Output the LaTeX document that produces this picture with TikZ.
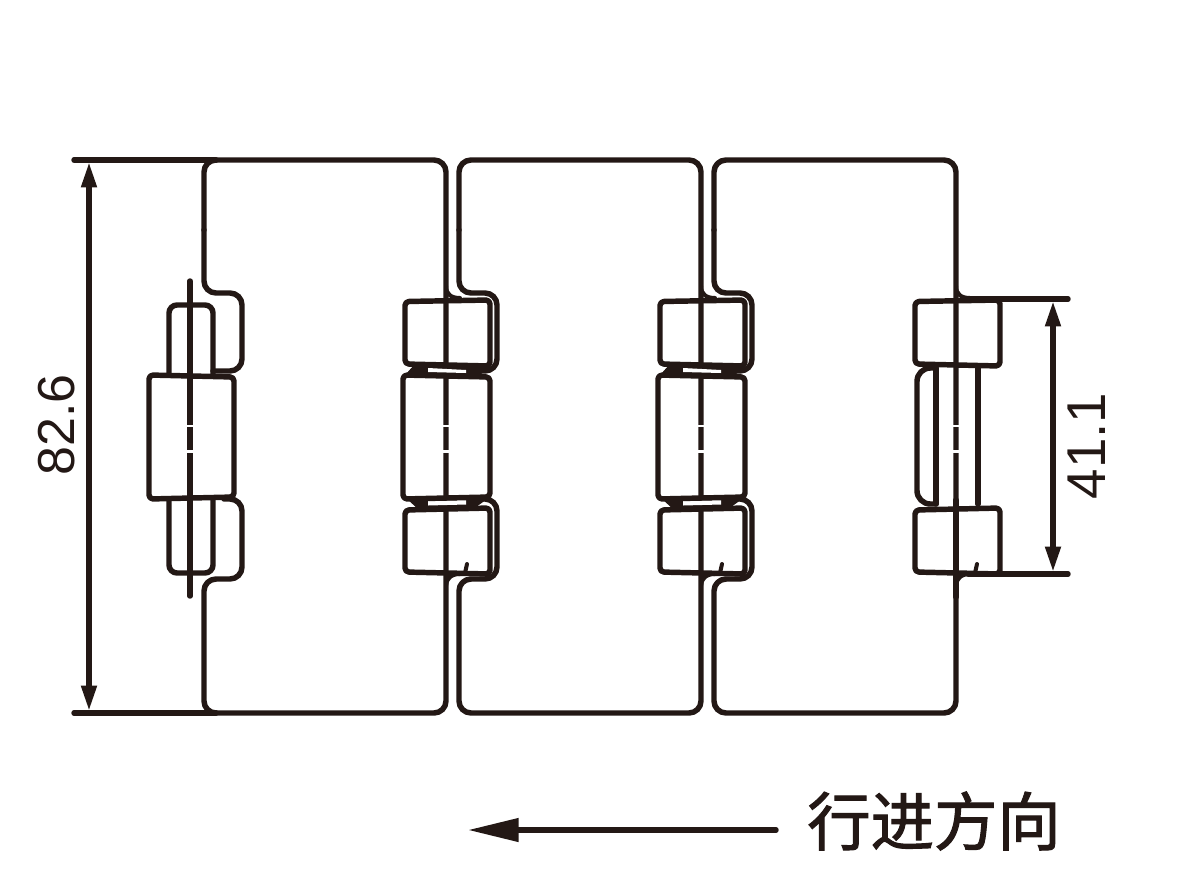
\documentclass[tikz,border=0pt]{standalone}
\usepackage{fontspec}
\setmainfont{Liberation Sans}
\newfontfamily\cjk[FakeBold=1.6]{Noto Sans CJK SC}
\usetikzlibrary{arrows.meta}
\definecolor{ink}{HTML}{231815}
\tikzset{x=0.75pt,y=-0.75pt,
 ln/.style={draw=ink,line width=4.1pt,line join=round,line cap=round},
 rn/.style={ln,rounded corners=9pt},
 rs/.style={ln,rounded corners=3pt},
 tip/.style={-{Triangle[length=19pt,width=11pt,color=ink]}},
 bigtip/.style={-{Triangle[length=38pt,width=17pt,color=ink]}},
 lbl/.style={text=ink,inner sep=0pt}}
\newcommand{\plate}[1]{
\begin{scope}[xshift=#1*0.75pt]
\draw[rn] (204,230) -- (204,160) -- (446,160) -- (446,713) -- (204,713) -- (204,579) -- (242,579) -- (242,499) -- (224,499);
\draw[rn] (204,230) -- (204,293) -- (242,293) -- (242,371) -- (213,371);
\end{scope}}
\newcommand{\axisgap}[1]{
\fill[white] (#1-4,424.5) rectangle (#1+4,427);
\fill[white] (#1-4,450) rectangle (#1+4,452.5);}
\newcommand{\flare}[1]{
\draw[ln,line width=3pt] (#1,286) .. controls (#1,294) and (#1+5,298) .. (#1+14,298);
\draw[ln,line width=3pt] (#1,586) .. controls (#1,579) and (#1+5,574) .. (#1+14,574);
\draw[ln,line width=3pt] (#1+21,564) -- (#1+19,573);}
\newcommand{\knuckles}[1]{
\begin{scope}[xshift=#1*0.75pt]
\draw[rs] (405,301.5) -- (490,300) -- (490,366) -- (405,364) -- cycle;
\draw[rs] (405,510) -- (490,508) -- (490,574) -- (405,572) -- cycle;
\end{scope}}
\newcommand{\midblock}[1]{
\begin{scope}[xshift=#1*0.75pt]
\fill[ink] (414,365) -- (490,368) -- (478,376) -- (406,374) -- cycle;
\fill[ink] (405,497) -- (490,497) -- (476,507) -- (420,511) -- cycle;
\fill[white] (428,368) -- (466,370) -- (466,373) -- (428,372) -- cycle;
\fill[white] (428,501) -- (466,500) -- (466,504.5) -- (428,505.5) -- cycle;
\draw[rs] (403,375) -- (490,377) -- (490,497) -- (403,499) -- cycle;
\end{scope}}
\begin{document}
\begin{tikzpicture}
\useasboundingbox[fill=white] (0,0) rectangle (1178,890);
\plate{0}\plate{255}\plate{510}
% hinge 1
\draw[rn,rounded corners=6pt] (169,374) -- (169,305) -- (213,305) -- (213,374);
\draw[rn,rounded corners=6pt] (169,499) -- (169,573) -- (213,573) -- (213,499);
\draw[rs,fill=white] (149,375) -- (234,377) -- (234,497) -- (149,499) -- cycle;
\coordinate (axA) at (190,281); \coordinate (axB) at (190,596);
\draw[ln] (axA) -- (axB);
\axisgap{190}
% hinge 2 and 3
\knuckles{0}\knuckles{255}\midblock{0}\midblock{255}
\flare{446}\flare{701}
\axisgap{446}\axisgap{701}
% hinge 4
\knuckles{510}
\draw[ln,rounded corners=10pt] (936,368) -- (917,368) -- (917,504) -- (936,504);
\draw[ln] (936,368) -- (936,504);
\draw[ln] (978,368) -- (978,504);
\draw[ln] (956,500) -- (956,597);
\flare{956}
\axisgap{956}
% dimensions
\coordinate (dA) at (74,160); \coordinate (dAe) at (216,160);
\coordinate (dB) at (74,713); \coordinate (dBe) at (216,713);
\coordinate (dC) at (89,162); \coordinate (dD) at (89,711);
\coordinate (dM) at (89,430);
\draw[ln] (dA) -- (dAe);
\draw[ln] (dB) -- (dBe);
\draw[ln,tip] (dM) -- (dC);
\draw[ln,tip] (dM) -- (dD);
\coordinate (eA) at (968,299); \coordinate (eAe) at (1068,299);
\coordinate (eB) at (968,574); \coordinate (eBe) at (1068,574);
\coordinate (eC) at (1053,301); \coordinate (eD) at (1053,572);
\coordinate (eM) at (1053,430);
\draw[ln] (eA) -- (eAe);
\draw[ln] (eB) -- (eBe);
\draw[ln,tip] (eM) -- (eC);
\draw[ln,tip] (eM) -- (eD);
\node[lbl,rotate=90,font=\fontsize{39}{39}\selectfont] (dimA) at (57,425) {82.6};
\node[lbl,rotate=90,font=\fontsize{41}{41}\selectfont] (dimB) at (1087,446) {41.1};
% travel direction
\coordinate (arS) at (776,830); \coordinate (arE) at (468,830);
\draw[ln,bigtip] (arS) -- (arE);
\node[lbl,font=\cjk\fontsize{47.5}{47.5}\selectfont] (dirtxt) at (934,821) {行进方向};
\end{tikzpicture}
\end{document}
